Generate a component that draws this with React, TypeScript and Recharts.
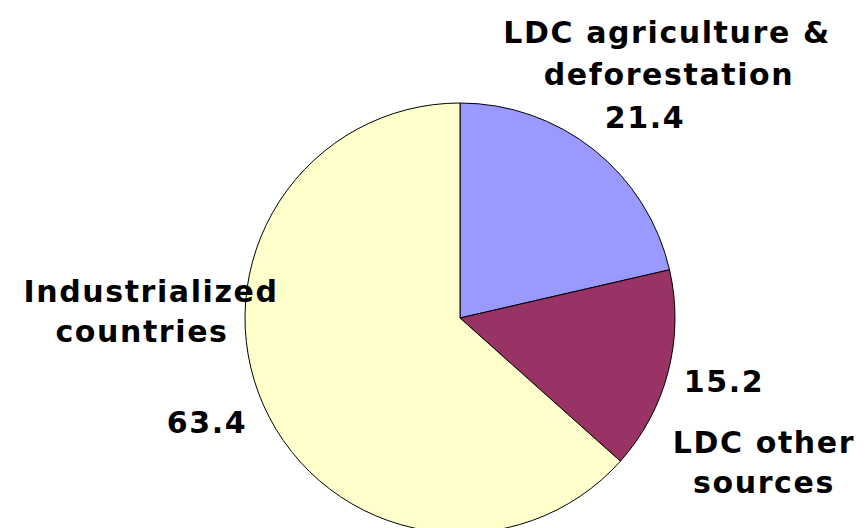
import React from 'react'
import { PieChart, Pie, Cell } from 'recharts'

const sliceNames = ['LDC agriculture & deforestation', 'LDC other sources', 'Industrialized countries']
const sliceValues = [21.4, 15.2, 63.4]
const sliceColors = ['#9999FF', '#993366', '#FFFFCC']

// label text lines per slice, value goes where the 'VALUE' token is
const labelLines = [
  ['LDC agriculture &', 'deforestation', 'VALUE'],
  ['VALUE', 'LDC other', 'sources'],
  ['Industrialized', 'countries', 'VALUE']
]
// offsets from pie centre for each line
const labelOffsets = [
  [[207, -275], [209, -233], [185, -190]],
  [[264, 74], [304, 135], [304, 175]],
  [[-309, -16], [-318, 24], [-253, 115]]
]

const data = sliceNames.map((name, i) => ({ name, value: sliceValues[i] }))

const CX = 460
const CY = 318

const renderLabel = (props: any) => {
  const { index } = props
  const lines = labelLines[index]
  return (
    <g key={`lbl-${index}`}>
      {lines.map((t, j) => (
        <text
          key={j}
          x={CX + labelOffsets[index][j][0]}
          y={CY + labelOffsets[index][j][1]}
          textAnchor="middle"
          fill="#000"
          fontFamily="'DejaVu Sans', Verdana, sans-serif"
          fontWeight="bold"
          fontSize={30}
          letterSpacing={1.6}
        >
          {t === 'VALUE' ? sliceValues[index].toFixed(1) : t}
        </text>
      ))}
    </g>
  )
}

export default function App() {
  return (
    <div style={{ position: 'absolute', left: 0, top: 0, width: 865, height: 528, background: '#fff' }}>
      <PieChart width={865} height={528} margin={{ top: 0, right: 0, bottom: 0, left: 0 }}>
        <Pie
          data={data}
          dataKey="value"
          nameKey="name"
          cx={CX}
          cy={CY}
          outerRadius={215}
          startAngle={90}
          endAngle={-270}
          stroke="#000"
          strokeWidth={1}
          label={renderLabel}
          labelLine={false}
          isAnimationActive={false}
        >
          {data.map((d, i) => (
            <Cell key={d.name} fill={sliceColors[i]} />
          ))}
        </Pie>
      </PieChart>
    </div>
  )
}
